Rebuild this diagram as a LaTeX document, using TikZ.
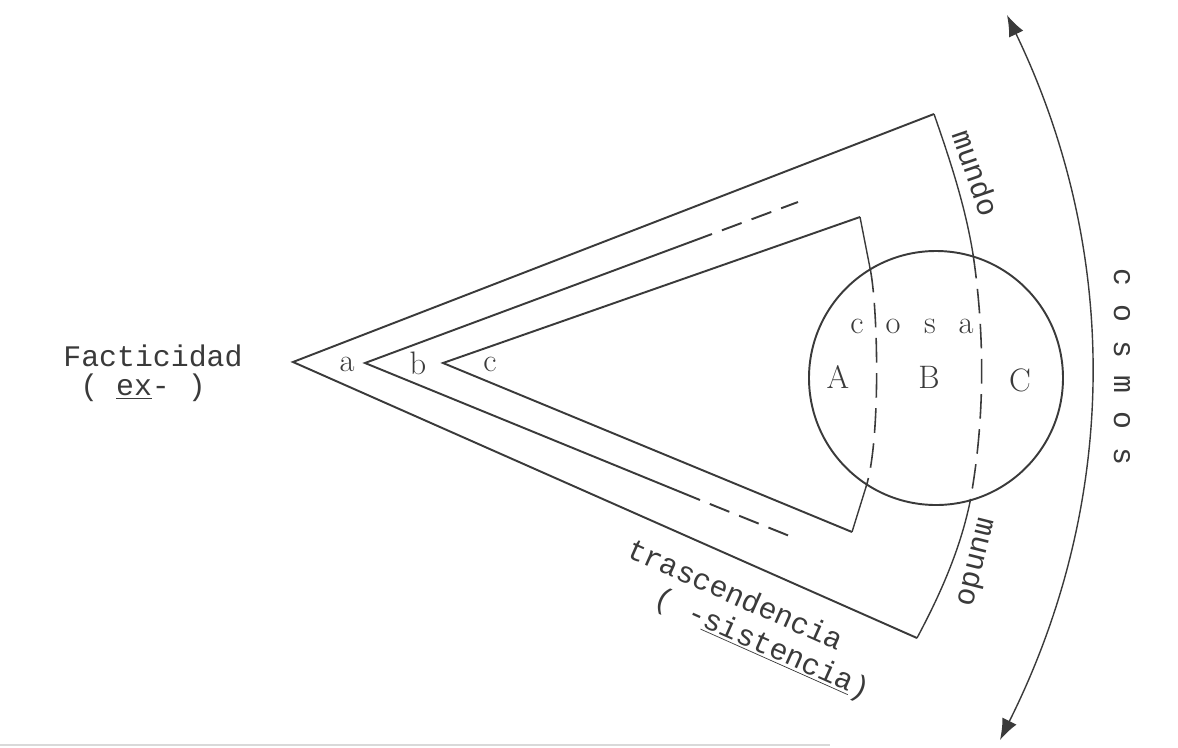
\documentclass[tikz,border=0pt]{standalone}
\usepackage{fontspec}
\setmonofont{Liberation Mono}
\usetikzlibrary{arrows.meta,calc}
\definecolor{pencil}{HTML}{3A3A3A}

\begin{document}
\begin{tikzpicture}[x=0.02cm,y=-0.02cm,
  typed/.style={font=\ttfamily\fontsize{17}{20}\selectfont,text=pencil,inner sep=0pt},
  letter/.style={font=\fontsize{18.5}{21}\selectfont,text=pencil,inner sep=0pt},
  edge/.style={line width=1.1pt,draw=pencil,line join=miter},
  thin edge/.style={line width=0.8pt,draw=pencil},
  cut/.style={edge,dash pattern=on 12pt off 6pt,dash phase=12pt},
  inside/.style={line width=0.9pt,draw=pencil,dash pattern=on 14pt off 6pt}]
  \useasboundingbox (0,0) rectangle (1178,748);
  % apexes
  \coordinate (pa) at (293,362);
  \coordinate (pb) at (365,363);
  \coordinate (pc) at (443,363);
  % outer wedge a, closed by the mundo arc
  \coordinate (au) at (934,114);
  \coordinate (ad) at (917,638);
  \coordinate (am) at (973,254);
  \coordinate (an) at (970,502);
  % middle wedge b, left open
  \coordinate (bu) at (712,234);
  \coordinate (bue) at (798,202);
  \coordinate (bd) at (700,500);
  \coordinate (bde) at (792,537);
  % inner wedge c
  \coordinate (cu) at (860,217);
  \coordinate (cd) at (852,532);
  \coordinate (cm) at (870,268);
  \coordinate (cn) at (866,487);
  % the thing
  \coordinate (ctr) at (936,378);
  % cosmos ends
  \coordinate (kt) at (1007,15);
  \coordinate (kb) at (1000,740);

  \draw[edge] (au) -- (pa) -- (ad);
  \draw[thin edge] (au) .. controls (950,160) and (965,205) .. (am);
  \draw[inside] (am) .. controls (985,335) and (985,420) .. (an);
  \draw[thin edge] (an) .. controls (960,550) and (940,595) .. (ad);

  \draw[edge] (bu) -- (pb) -- (bd);
  \draw[cut] (bu) -- (bue);
  \draw[cut] (bd) -- (bde);

  \draw[edge] (cu) -- (pc) -- (cd);
  \draw[thin edge] (cu) -- (cm);
  \draw[inside] (cm) .. controls (878,305) and (881,440) .. (cn);
  \draw[thin edge] (cn) -- (cd);

  \draw[edge] (ctr) circle (127);

  \draw[thin edge,{Latex[length=12pt,width=9pt]}-{Latex[length=12pt,width=9pt]}]
    (kt) .. controls (1120,250) and (1120,500) .. (kb);

  % bottom edge of the sheet
  \draw[gray!30,line width=1pt] (0,745) -- (830,745);

  \node[typed] (facticidad) at (153,356) {Facticidad};
  \node[typed] (ex) at (143,388) {( \underline{ex}- )};
  \node[letter] (la) at (347,364) {a};
  \node[letter] (lb) at (418,363) {b};
  \node[letter] (lc) at (490,364) {c};
  \node[letter] (c1) at (857,326) {c};
  \node[letter] (c2) at (893,326) {o};
  \node[letter] (c3) at (930,326) {s};
  \node[letter] (c4) at (966,326) {a};
  \node[letter] (ra) at (838,377) {A};
  \node[letter] (rb) at (929,377) {B};
  \node[letter] (rc) at (1020,380) {C};
  \node[typed,rotate=-71] (mundoup) at (976,173) {mundo};
  \node[typed,rotate=-104] (mundodown) at (978,563) {mundo};
  \node[typed,rotate=-90] (cosmos) at (1122,367) {c o s m o s};
  \node[typed,rotate=-24] (trasc) at (736,594) {trascendencia};
  \node[typed,rotate=-24] (sist) at (762,645) {( -\underline{sistencia})};
\end{tikzpicture}
\end{document}
